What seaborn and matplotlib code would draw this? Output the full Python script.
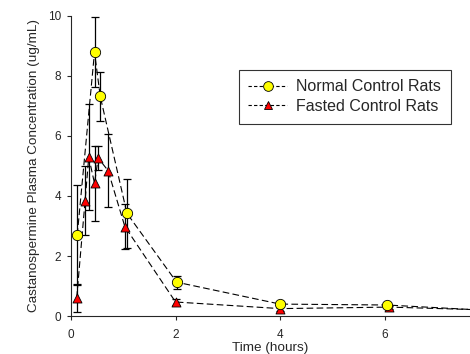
import matplotlib
matplotlib.use("Agg")
import matplotlib.pyplot as plt
import seaborn as sns
import pandas as pd
from matplotlib.lines import Line2D

# ---- data ----
normal_t = [0.12, 0.45, 0.56, 1.07, 2.02, 4.0, 6.04]
normal_c = [2.70, 8.78, 7.31, 3.42, 1.13, 0.40, 0.37]
normal_err = [1.67, 1.16, 0.81, 1.14, 0.22, 0.08, 0.05]

fasted_t = [0.11, 0.27, 0.34, 0.45, 0.52, 0.71, 1.03, 2.0, 4.0, 6.09]
fasted_c = [0.61, 3.84, 5.29, 4.42, 5.26, 4.84, 2.98, 0.47, 0.25, 0.30]
fasted_err = [0.47, 1.15, 1.77, 1.25, 0.39, 1.22, 0.74, 0.10, 0.08, 0.05]

# dashed curves continue past the last sample to the right edge
tail_t = 7.65
normal_tail = 0.22
fasted_tail = 0.22

labels = ["Normal Control Rats", "Fasted Control Rats"]
x_ticks = [0, 2, 4, 6]
y_ticks = [0, 2, 4, 6, 8, 10]

sns.set_style("ticks")
plt.rcParams["font.family"] = ["Liberation Sans", "DejaVu Sans"]

fig = plt.figure(figsize=(4.70, 3.54), dpi=100)
ax = fig.add_axes([0.151, 0.107, 0.849, 0.849])

line_n = pd.DataFrame({"t": normal_t + [tail_t], "c": normal_c + [normal_tail]})
line_f = pd.DataFrame({"t": fasted_t + [tail_t], "c": fasted_c + [fasted_tail]})
dash = (6, 3)
sns.lineplot(data=line_n, x="t", y="c", ax=ax, color="black", lw=0.8,
             sort=False, estimator=None, dashes=False, zorder=2)
sns.lineplot(data=line_f, x="t", y="c", ax=ax, color="black", lw=0.8,
             sort=False, estimator=None, dashes=False, zorder=2)
for l in ax.lines:
    l.set_dashes(dash)

ax.errorbar(normal_t, normal_c, yerr=normal_err, fmt="none", ecolor="black",
            elinewidth=0.9, capsize=3, capthick=0.9, zorder=3)
ax.errorbar(fasted_t, fasted_c, yerr=fasted_err, fmt="none", ecolor="black",
            elinewidth=0.9, capsize=3, capthick=0.9, zorder=3)

sns.scatterplot(x=fasted_t, y=fasted_c, ax=ax, marker="^", s=42,
                color="#ff0000", edgecolor="black", linewidth=0.6, zorder=4)
sns.scatterplot(x=normal_t, y=normal_c, ax=ax, marker="o", s=55,
                color="#ffff00", edgecolor="black", linewidth=0.6, zorder=5)

ax.set_xlim(0, 7.63)
ax.set_ylim(0, 10)
ax.set_xticks(x_ticks)
ax.set_yticks(y_ticks)
ax.tick_params(labelsize=8.5, length=3, width=0.8, direction="out")
ax.tick_params(axis="x", pad=6)
ax.tick_params(axis="y", pad=4)
for s in ["top", "right"]:
    ax.spines[s].set_visible(False)
for s in ["left", "bottom"]:
    ax.spines[s].set_linewidth(0.8)
ax.set_xlabel("Time (hours)", fontsize=9.7, labelpad=1)
ax.set_ylabel("Castanospermine Plasma Concentration (ug/mL)", fontsize=9.7, labelpad=6)

handles = [
    Line2D([], [], color="black", lw=0.8, dashes=(3, 2), marker="o",
           markerfacecolor="#ffff00", markeredgecolor="black", markersize=7,
           markeredgewidth=0.6),
    Line2D([], [], color="black", lw=0.8, dashes=(3, 2), marker="^",
           markerfacecolor="#ff0000", markeredgecolor="black", markersize=6,
           markeredgewidth=0.6),
]
leg = ax.legend(handles, labels, loc="upper right", bbox_to_anchor=(0.952, 0.82),
                fontsize=11.5, frameon=True, fancybox=False, edgecolor="black",
                handlelength=2.4, handletextpad=0.6, borderpad=0.6,
                labelspacing=0.3, borderaxespad=0)
leg.get_frame().set_linewidth(0.8)

fig.savefig("out.png", dpi=100)
